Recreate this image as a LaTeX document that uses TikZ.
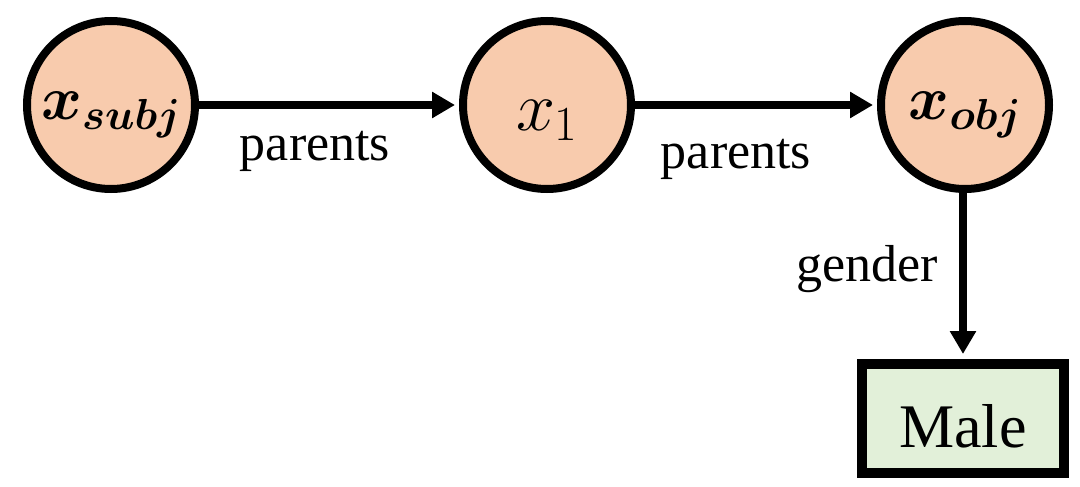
\RequirePackage{fix-cm}
\documentclass[tikz,border=0pt]{standalone}
\usepackage{bm}
\usepackage{fontspec}
\setmainfont{Liberation Serif}
\usetikzlibrary{arrows.meta}
\definecolor{peach}{RGB}{248,203,173}
\definecolor{palegreen}{RGB}{226,240,217}
\begin{document}
\begin{tikzpicture}[x=1pt,y=-1pt,
  ent/.style={circle,draw=black,line width=8pt,fill=peach,minimum size=168pt,inner sep=0pt,text depth=0pt},
  valbox/.style={rectangle,draw=black,line width=10pt,fill=palegreen,minimum width=202pt,minimum height=109pt,inner sep=0pt,text height=57pt,text depth=0pt,font=\fontsize{62}{62}\selectfont},
  rel/.style={line width=8pt,-{Triangle[length=23pt,width=25pt]}},
  lbl/.style={font=\fontsize{52}{52}\selectfont,anchor=base,inner sep=0pt}]
\useasboundingbox (0,0) rectangle (1080,487);
\node[ent,text height=30pt] (s) at (111,105) {\fontsize{62}{62}\selectfont $\bm{x_{subj}}$};
\node[ent,text height=50pt] (a) at (547,105) {\fontsize{70}{70}\selectfont $x_1$};
\node[ent,text height=30pt] (o) at (965,105) {\fontsize{62}{62}\selectfont $\bm{x_{obj}}$};
\node[valbox] (m) at (963,418.5) {Male};
\draw[rel,shorten >=4pt] (s) -- (a);
\draw[rel,shorten >=4pt] (a) -- (o);
\draw[rel,shorten >=5pt] (o.south -| m.north) -- (m.north);
\node[lbl] (l1) at (315,160) {parents};
\node[lbl] (l2) at (736,168) {parents};
\node[lbl] (l3) at (867,281) {gender};
\end{tikzpicture}
\end{document}
